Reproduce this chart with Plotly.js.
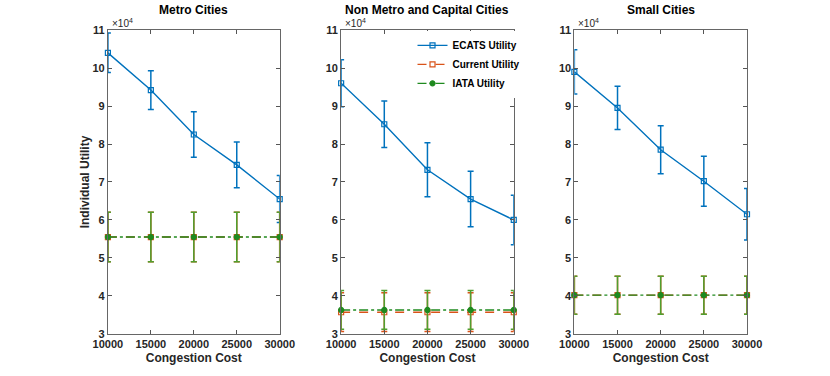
<!DOCTYPE html>
<html><head><meta charset="utf-8">
<script src="https://cdn.plot.ly/plotly-3.0.1.min.js"></script>
<style>body{margin:0;background:#fff}#c{width:830px;height:376px}</style>
</head><body><div id="c"></div>
<script>
const cost = [10000, 15000, 20000, 25000, 30000];
const panelTitles = ['Metro Cities', 'Non Metro and Capital Cities', 'Small Cities'];
const seriesNames = ['ECATS Utility', 'Current Utility', 'IATA Utility'];
// values per panel (Metro, Non Metro, Small)
const ecats = [[104000, 94200, 82500, 74500, 65500],[96000, 85200, 73200, 65500, 60000],[99000, 89500, 78500, 70200, 61500]];
const ecatsErr = [[5200, 5100, 6000, 6000, 6200],[6200, 6100, 7100, 7300, 6500],[5800, 5700, 6300, 6600, 6800]];
const current = [[55500, 55500, 55500, 55500, 55500],[35700, 35700, 35700, 35700, 35700],[40200, 40200, 40200, 40200, 40200]];
const currentErr = [[6500, 6500, 6500, 6500, 6500],[5100, 5100, 5100, 5100, 5100],[5000, 5000, 5000, 5000, 5000]];
const iata = [[55500, 55500, 55500, 55500, 55500],[36300, 36300, 36300, 36300, 36300],[40200, 40200, 40200, 40200, 40200]];
const iataErr = [[6500, 6500, 6500, 6500, 6500],[5100, 5100, 5100, 5100, 5100],[5000, 5000, 5000, 5000, 5000]];
const yTickVals = [30000,40000,50000,60000,70000,80000,90000,100000,110000];
const yTickText = ['3','4','5','6','7','8','9','10','11'];
const xTicks = [10000,15000,20000,25000,30000];
const xTickText = ['10000','15000','20000','25000','30000'];

const colors = ['#0072BD', '#D95319', '#1f8a1f'];
const errColors = ['#0072BD', '#D95319', '#4f9f2f'];
const dashes = ['solid', 'dash', 'dashdot'];
const symbols = ['square-open', 'square-open', 'circle'];
const domX = [[0.130, 0.337],[0.411, 0.619],[0.692, 0.900]];
const F = 'Liberation Sans, Arial, Helvetica, sans-serif';

const traces = [];
const layout = {
  width: 830, height: 376, margin: {l:0, r:0, t:0, b:0},
  paper_bgcolor: '#fff', plot_bgcolor: '#fff', showlegend: true,
  font: {family: F, color: '#262626'},
  legend: {x: 0.497, y: 0.918, xanchor: 'left', yanchor: 'top', bgcolor: 'rgba(255,255,255,1)',
           borderwidth: 0, font: {size: 10, family: F, weight: 'bold', color: '#000'}, tracegroupgap: 0},
  annotations: []
};
for (let p = 0; p < 3; p++) {
  const ax = p === 0 ? '' : String(p + 1);
  const sets = [[ecats[p], ecatsErr[p]], [current[p], currentErr[p]], [iata[p], iataErr[p]]];
  for (let s = 0; s < 3; s++) {
    traces.push({
      x: cost, y: sets[s][0], xaxis: 'x' + ax, yaxis: 'y' + ax,
      type: 'scatter', mode: 'lines+markers', name: seriesNames[s],
      showlegend: p === 0, legendgroup: seriesNames[s],
      line: {color: colors[s], width: 1.4, dash: dashes[s]},
      marker: {symbol: symbols[s], size: 5, color: colors[s], line: {color: colors[s], width: 1.2}},
      error_y: {type: 'data', array: sets[s][1], visible: true, color: errColors[s], thickness: 1.5, width: 3},
      cliponaxis: false
    });
  }
  layout['xaxis' + ax] = {
    domain: domX[p], anchor: 'y' + ax, range: [10000, 30000], tickvals: xTicks, ticktext: xTickText,
    ticks: 'inside', ticklen: 4, tickcolor: '#555', mirror: 'ticks', showline: true, linecolor: '#666', linewidth: 1,
    showgrid: false, zeroline: false,
    tickfont: {size: 11, family: F, weight: 'bold', color: '#262626'},
    title: {text: 'Congestion Cost', font: {size: 12, family: F, weight: 'bold', color: '#262626'}, standoff: 4}
  };
  layout['yaxis' + ax] = {
    domain: [0.112, 0.920], anchor: 'x' + ax, range: [30000, 110000], tickvals: yTickVals, ticktext: yTickText,
    ticks: 'inside', ticklen: 4, tickcolor: '#555', mirror: 'ticks', showline: true, linecolor: '#666', linewidth: 1,
    showgrid: false, zeroline: false,
    tickfont: {size: 11, family: F, weight: 'bold', color: '#262626'},
    title: p === 0 ? {text: 'Individual Utility', font: {size: 12, family: F, weight: 'bold', color: '#262626'}, standoff: 0} : {text: ''}
  };
  layout.annotations.push({
    xref: 'paper', yref: 'paper', x: (domX[p][0] + domX[p][1]) / 2, y: 1 - 10/376, xanchor: 'center', yanchor: 'middle',
    text: '<b>' + panelTitles[p] + '</b>', showarrow: false, font: {size: 12, family: F, color: '#000'}
  });
  layout.annotations.push({
    xref: 'paper', yref: 'paper', x: domX[p][0] + 0.002, y: 0.918, xanchor: 'left', yanchor: 'bottom',
    text: '×10<sup>4</sup>', showarrow: false, font: {size: 10, family: F, color: '#262626'}
  });
}
Plotly.newPlot('c', traces, layout, {displayModeBar: false, staticPlot: true});
</script></body></html>
